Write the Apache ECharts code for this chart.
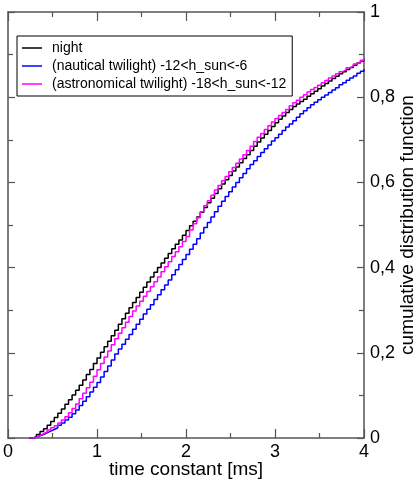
<!DOCTYPE html>
<html>
<head>
<meta charset="utf-8">
<style>
html,body{margin:0;padding:0;background:#fff;}
#chart{width:418px;height:482px;}
</style>
<script src="https://cdn.jsdelivr.net/npm/echarts@6/dist/echarts.min.js"></script>
</head>
<body>
<div id="chart"></div>
<script>
// time constant [ms], one step every 0.04 ms
const timeMs = [0.24,0.28,0.32,0.36,0.40,0.44,0.48,0.52,0.56,0.60,0.64,0.68,0.72,0.76,0.80,0.84,0.88,0.92,0.96,1.00,
1.04,1.08,1.12,1.16,1.20,1.24,1.28,1.32,1.36,1.40,1.44,1.48,1.52,1.56,1.60,1.64,1.68,1.72,1.76,1.80,
1.84,1.88,1.92,1.96,2.00,2.04,2.08,2.12,2.16,2.20,2.24,2.28,2.32,2.36,2.40,2.44,2.48,2.52,2.56,2.60,
2.64,2.68,2.72,2.76,2.80,2.84,2.88,2.92,2.96,3.00,3.04,3.08,3.12,3.16,3.20,3.24,3.28,3.32,3.36,3.40,
3.44,3.48,3.52,3.56,3.60,3.64,3.68,3.72,3.76,3.80,3.84,3.88,3.92,3.96,4.00];

const night = [0.000,0.003,0.008,0.015,0.022,0.030,0.039,0.048,0.058,0.068,0.079,0.090,0.101,0.112,0.124,0.136,0.149,0.161,0.175,0.188,
0.201,0.214,0.227,0.240,0.253,0.267,0.280,0.293,0.306,0.318,0.330,0.342,0.354,0.366,0.378,0.389,0.400,0.411,0.422,0.433,
0.444,0.455,0.465,0.476,0.487,0.498,0.509,0.519,0.530,0.541,0.552,0.563,0.574,0.585,0.596,0.606,0.616,0.627,0.636,0.646,
0.656,0.665,0.675,0.685,0.695,0.704,0.713,0.722,0.731,0.740,0.748,0.756,0.764,0.771,0.778,0.784,0.790,0.795,0.802,0.808,
0.814,0.820,0.826,0.832,0.838,0.844,0.849,0.855,0.860,0.865,0.870,0.875,0.880,0.885,0.890];

const nautical = [0.000,0.002,0.005,0.008,0.012,0.016,0.020,0.024,0.030,0.035,0.042,0.049,0.057,0.066,0.076,0.086,0.097,0.108,0.119,0.130,
0.143,0.156,0.169,0.183,0.197,0.209,0.220,0.232,0.243,0.255,0.267,0.279,0.291,0.302,0.313,0.325,0.336,0.348,0.359,0.371,
0.383,0.395,0.407,0.419,0.431,0.443,0.455,0.468,0.481,0.494,0.506,0.519,0.531,0.544,0.556,0.567,0.578,0.589,0.600,0.611,
0.621,0.632,0.642,0.651,0.661,0.670,0.679,0.688,0.697,0.705,0.713,0.722,0.730,0.737,0.745,0.753,0.761,0.768,0.775,0.782,
0.788,0.794,0.800,0.805,0.811,0.817,0.822,0.829,0.834,0.840,0.845,0.850,0.856,0.861,0.866];

const astronomical = [0.000,0.002,0.006,0.010,0.014,0.019,0.024,0.029,0.035,0.042,0.050,0.059,0.069,0.080,0.092,0.105,0.118,0.131,0.145,0.160,
0.175,0.190,0.204,0.219,0.233,0.246,0.259,0.272,0.285,0.298,0.310,0.321,0.333,0.344,0.355,0.367,0.378,0.390,0.402,0.414,
0.426,0.437,0.449,0.461,0.473,0.488,0.503,0.517,0.531,0.545,0.557,0.570,0.582,0.593,0.604,0.614,0.625,0.635,0.645,0.655,
0.665,0.675,0.685,0.696,0.706,0.715,0.724,0.733,0.742,0.750,0.757,0.764,0.771,0.780,0.787,0.793,0.800,0.806,0.812,0.818,
0.823,0.828,0.834,0.839,0.845,0.850,0.855,0.860,0.864,0.869,0.873,0.878,0.882,0.887,0.891];

const seriesNames = ['night', '(nautical twilight) -12<h_sun<-6', '(astronomical twilight) -18<h_sun<-12'];
const seriesColors = ['#000000', '#0000ff', '#ff00ff'];
const xTicks = [0, 1, 2, 3, 4];
const yTicks = [0, 0.2, 0.4, 0.6, 0.8, 1];

const FONT = 'Liberation Sans';
const FRAME = '#555555';

const chart = echarts.init(document.getElementById('chart'), null, {renderer: 'canvas'});

function axisCommon() {
  return {
    type: 'value',
    axisLine: {show: true, onZero: false, lineStyle: {color: FRAME, width: 1.5}},
    axisTick: {show: true, inside: true, length: 9, lineStyle: {color: FRAME, width: 1.2}},
    minorTick: {show: true, splitNumber: 2, length: 5, lineStyle: {color: FRAME, width: 1.2}},
    splitLine: {show: false},
    minorSplitLine: {show: false}
  };
}

const dataSets = [night, nautical, astronomical];

chart.setOption({
  animation: false,
  backgroundColor: '#ffffff',
  grid: {left: 8, right: 54, top: 12, bottom: 44, containLabel: false, outerBoundsMode: 'none'},
  legend: {
    show: true,
    orient: 'vertical',
    left: 17,
    top: 36,
    data: seriesNames,
    icon: 'path://M0,0H20V1.5H0Z',
    symbolKeepAspect: true,
    itemWidth: 20,
    itemHeight: 14,
    itemGap: 4,
    padding: [5, 6, 5, 5],
    borderColor: '#000000',
    borderWidth: 1,
    backgroundColor: '#ffffff',
    textStyle: {fontFamily: FONT, fontSize: 14, color: '#000', padding: [0, 0, 0, 5]}
  },
  xAxis: [
    Object.assign(axisCommon(), {
      position: 'bottom', min: xTicks[0], max: xTicks[xTicks.length - 1], interval: 1,
      name: 'time constant [ms]', nameLocation: 'middle', nameGap: 22, nameMoveOverlap: false,
      nameTextStyle: {fontFamily: FONT, fontSize: 19, color: '#000'},
      axisLabel: {show: true, margin: 5, fontFamily: FONT, fontSize: 18, color: '#000',
        formatter: v => xTicks.includes(v) ? String(v) : ''}
    }),
    Object.assign(axisCommon(), {
      position: 'top', min: xTicks[0], max: xTicks[xTicks.length - 1], interval: 1,
      axisLabel: {show: false}
    })
  ],
  yAxis: [
    Object.assign(axisCommon(), {
      position: 'right', min: yTicks[0], max: yTicks[yTicks.length - 1], interval: 0.2,
      name: 'cumulative distribution function', nameLocation: 'middle', nameGap: 34, nameRotate: 90,
      nameMoveOverlap: false,
      nameTextStyle: {fontFamily: FONT, fontSize: 19, color: '#000'},
      axisTick: {show: true, inside: true, length: 7, lineStyle: {color: FRAME, width: 1.2}},
      minorTick: {show: true, splitNumber: 2, length: 5, lineStyle: {color: FRAME, width: 1.2}},
      axisLabel: {show: true, margin: 6, fontFamily: FONT, fontSize: 18, color: '#000',
        formatter: v => String(Math.round(v * 10) / 10).replace('.', ',')}
    }),
    Object.assign(axisCommon(), {
      position: 'left', min: yTicks[0], max: yTicks[yTicks.length - 1], interval: 0.2,
      axisTick: {show: true, inside: true, length: 7, lineStyle: {color: FRAME, width: 1.2}},
      minorTick: {show: true, splitNumber: 2, length: 5, lineStyle: {color: FRAME, width: 1.2}},
      axisLabel: {show: false}
    })
  ],
  series: seriesNames.map((name, k) => ({
    name: name,
    type: 'line',
    xAxisIndex: 0,
    yAxisIndex: 0,
    step: 'end',
    symbol: 'none',
    showSymbol: false,
    clip: true,
    color: seriesColors[k],
    lineStyle: {color: seriesColors[k], width: 1.5},
    data: timeMs.map((t, i) => [t, dataSets[k][i]])
  }))
});
</script>
</body>
</html>
